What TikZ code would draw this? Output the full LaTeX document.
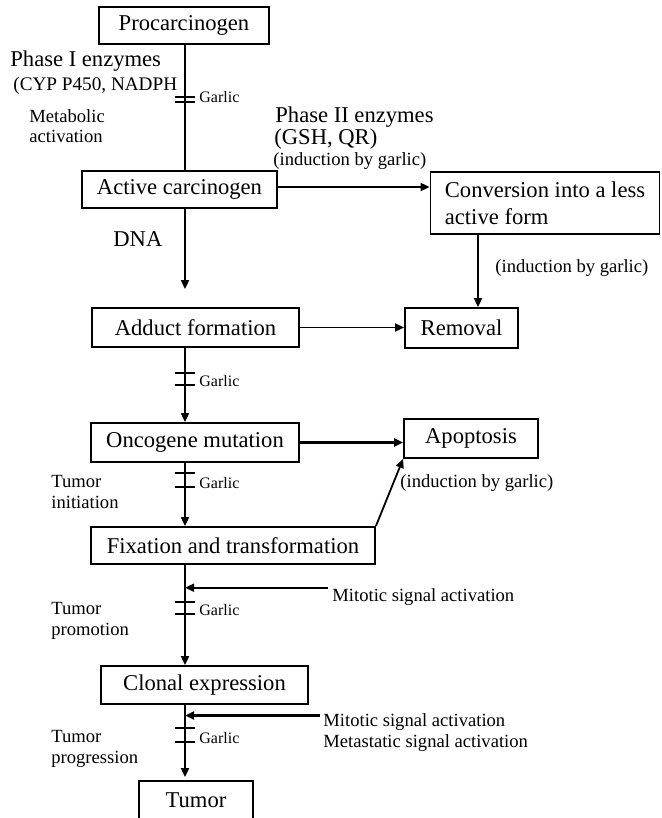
\documentclass[tikz,border=0pt]{standalone}
\usepackage{fontspec}
\setmainfont{Liberation Serif}
\usetikzlibrary{arrows.meta, positioning, calc}

\begin{document}
\begin{tikzpicture}[x=0.5pt, y=-0.5pt, >={Triangle[length=4.5pt, width=4pt]},
    box/.style={draw, line width=0.9pt, inner sep=0pt, font=\fontsize{11.3}{13.5}\selectfont},
    big/.style={inner sep=0pt, anchor=base west, font=\fontsize{11.3}{13.5}\selectfont},
    sml/.style={inner sep=0pt, anchor=base west, align=left, font=\fontsize{9.3}{10.3}\selectfont},
    gtxt/.style={inner sep=0pt, anchor=base west, font=\fontsize{8}{9}\selectfont},
    conn/.style={line width=0.9pt},
    heavy/.style={line width=1.5pt}]
    \useasboundingbox (0,0) rectangle (661,818);
    \coordinate (spine) at (185,0);
    \coordinate (side) at (478,0);

    % boxes
    \node[box, minimum width=85pt, minimum height=18.5pt] (proc) at (184,25.5) {Procarcinogen};
    \node[box, minimum width=97.5pt, minimum height=18.5pt] (active) at (179.5,189.5) {Active carcinogen};
    \node[box, minimum width=114.5pt, minimum height=31pt, align=left] (conv) at (545,203) {Conversion into a less\\active form};
    \node[box, minimum width=103.5pt, minimum height=19.5pt] (adduct) at (195.5,327.5) {Adduct formation};
    \node[box, minimum width=56.5pt, minimum height=20pt] (removal) at (461.5,328) {Removal};
    \node[box, minimum width=104pt, minimum height=19.5pt] (onco) at (195,442.5) {Oncogene mutation};
    \node[box, minimum width=67pt, minimum height=19.5pt] (apop) at (471,438.5) {Apoptosis};
    \node[box, minimum width=142pt, minimum height=18.5pt] (fix) at (233,545.5) {Fixation and transformation};
    \node[box, minimum width=103.5pt, minimum height=19pt] (clonal) at (204.5,685) {Clonal expression};
    \node[box, minimum width=57pt, minimum height=19pt] (tumor) at (196,800) {Tumor};

    % labels
    \node[big] (ph1) at (10,67) {Phase I enzymes};
    \node[big, font=\fontsize{9.6}{11.5}\selectfont] (cyp) at (13,91) {(CYP P450, NADPH};
    \node[sml] (metab) at (29,143) {Metabolic\\activation};
    \node[big] (ph2) at (275,123) {Phase II enzymes};
    \node[big] (gsh) at (274,145) {(GSH, QR)};
    \node[sml] (ind1) at (273,166) {(induction by garlic)};
    \node[big] (dna) at (113,247) {DNA};
    \node[sml] (ind2) at (495,272) {(induction by garlic)};
    \node[sml] (ind3) at (400,487) {(induction by garlic)};
    \node[sml] (init) at (51,508) {Tumor\\initiation};
    \node[sml] (promo) at (51,635) {Tumor\\promotion};
    \node[sml] (progr) at (51,763) {Tumor\\progression};
    \node[sml] (mit1) at (332,601) {Mitotic signal activation};
    \node[sml] (mit2) at (323,747) {Mitotic signal activation\\Metastatic signal activation};

    % main line
    \draw[conn] (proc.south -| spine) -- (active.north -| spine);
    \draw[conn, ->, shorten >=9pt] (active.south -| spine) -- (adduct.north -| spine);
    \draw[conn, ->] (adduct.south -| spine) -- (onco.north -| spine);
    \draw[conn, ->] (onco.south -| spine) -- (fix.north -| spine);
    \draw[conn, ->] (fix.south -| spine) -- (clonal.north -| spine);
    \draw[conn, ->, shorten >=1.5pt] (clonal.south -| spine) -- (tumor.north -| spine);

    % side branches
    \draw[conn, ->] (active.east |- 0,187) -- (conv.west |- 0,187);
    \draw[conn, ->] (conv.south -| side) -- (removal.north -| side);
    \draw[conn, ->] (adduct.east) -- (adduct.east -| removal.west);
    \draw[heavy, ->] (onco.east) -- (onco.east -| apop.west);
    \draw[conn, ->] (fix.north east) -- (apop.south west);
    \draw[conn, ->] ([xshift=-2pt]mit1.north west) -- (mit1.north west -| spine);
    \draw[heavy, ->] ([xshift=-1.5pt,yshift=-1.2pt]mit2.north west) -- ([yshift=-1.2pt]mit2.north west -| spine);

    % garlic blocks
    \foreach \ya/\yb [count=\i] in {97/102, 373/385, 473/487, 602/614, 728/742} {
        \draw[conn] (175,\ya) -- (195,\ya);
        \draw[conn] (175,\yb) -- (195,\yb);
        \node[gtxt] (garlic\i) at (199,\yb+1) {Garlic};
    }
\end{tikzpicture}
\end{document}
